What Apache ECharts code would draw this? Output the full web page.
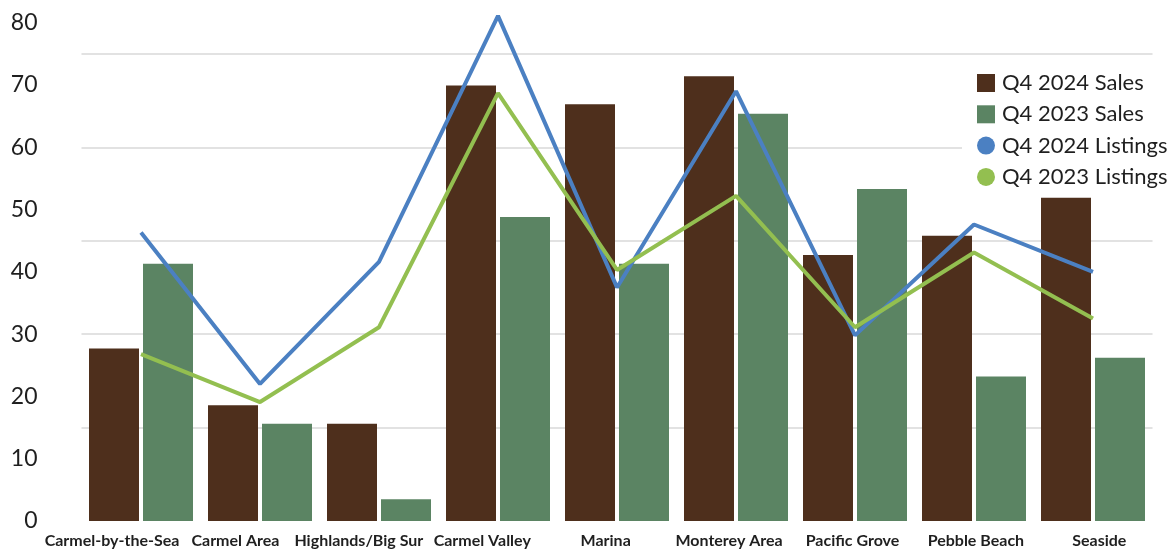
<!DOCTYPE html>
<html>
<head>
<meta charset="utf-8">
<script src="https://cdn.jsdelivr.net/npm/echarts@6/dist/echarts.min.js"></script>
<style>
  html, body { margin: 0; padding: 0; background: #fff; }
  #chart { width: 1167px; height: 556px; }
</style>
</head>
<body>
<div id="chart"></div>
<script>
// areas along the x axis
const areas = ['Carmel-by-the-Sea', 'Carmel Area', 'Highlands/Big Sur', 'Carmel Valley', 'Marina',
  'Monterey Area', 'Pacific Grove', 'Pebble Beach', 'Seaside']

// values
const sales2024 = [27.7, 18.6, 15.6, 69.9, 66.9, 71.4, 42.7, 45.8, 51.9]
const sales2023 = [41.3, 15.6, 3.5, 48.8, 41.3, 65.4, 53.3, 23.2, 26.2]
const listings2024 = [46.3, 22.0, 41.6, 81.1, 37.5, 69.0, 29.8, 47.6, 40.0]
const listings2023 = [26.8, 19.1, 31.1, 68.7, 40.3, 52.2, 31.1, 43.1, 32.5]

const font = 'Lato, "Noto Sans", sans-serif'
const textColor = '#1f1f1f'

let chart = echarts.init(document.getElementById('chart'))
chart.setOption({
  animation: false,
  backgroundColor: '#fff',
  grid: [
    { left: 81.5, right: 14.5, top: 4, bottom: 35 },
    // the area names sit on a slightly different spacing than the bars
    { left: 50.3, right: 6, top: 4, bottom: 35 }
  ],
  legend: {
    orient: 'vertical',
    left: 962,
    top: 63,
    padding: [9, 20, 9, 15],
    backgroundColor: '#fff',
    itemWidth: 18,
    itemHeight: 18,
    itemGap: 9.3,
    textStyle: { fontFamily: font, fontSize: 22, color: textColor, padding: [0, 0, 0, 2] },
    data: [
      { name: 'Q4 2024 Sales', icon: 'rect' },
      { name: 'Q4 2023 Sales', icon: 'rect' },
      { name: 'Q4 2024 Listings', icon: 'circle' },
      { name: 'Q4 2023 Listings', icon: 'circle' }
    ]
  },
  xAxis: [
    {
      type: 'category',
      data: areas,
      axisLine: { show: false },
      axisTick: { show: false },
      axisLabel: { show: false }
    },
    {
      type: 'category',
      gridIndex: 1,
      data: areas,
      axisLine: { show: false },
      axisTick: { show: false },
      axisLabel: { fontFamily: font, fontSize: 16, fontWeight: 'bold', color: textColor, margin: 12, interval: 0 }
    }
  ],
  yAxis: [
    {
      // labels every 10
      type: 'value', min: 0, max: 83, interval: 10,
      axisLine: { show: false }, axisTick: { show: false },
      splitLine: { show: false },
      axisLabel: { fontFamily: font, fontSize: 23, color: textColor, margin: 44, align: 'right', showMaxLabel: false }
    },
    {
      // grid lines every 15
      type: 'value', min: 0, max: 83, interval: 15, position: 'left',
      axisLine: { show: false }, axisTick: { show: false },
      axisLabel: { show: false },
      splitLine: { show: true, showMinLine: false, showMaxLine: false, lineStyle: { color: '#e2e2e2', width: 2 } }
    },
    {
      type: 'value', gridIndex: 1, min: 0, max: 83, show: false
    }
  ],
  series: [
    {
      name: 'Q4 2024 Sales', type: 'bar', data: sales2024,
      barWidth: 50, barGap: '8%',
      itemStyle: { color: '#4e2f1c' }
    },
    {
      name: 'Q4 2023 Sales', type: 'bar', data: sales2023,
      barWidth: 50,
      itemStyle: { color: '#5b8463' }
    },
    {
      name: 'Q4 2024 Listings', type: 'line', data: listings2024,
      showSymbol: false, symbol: 'circle', z: 5,
      lineStyle: { color: '#4b80c2', width: 4 },
      itemStyle: { color: '#4b80c2' }
    },
    {
      name: 'Q4 2023 Listings', type: 'line', data: listings2023,
      showSymbol: false, symbol: 'circle', z: 5,
      lineStyle: { color: '#93bf50', width: 4 },
      itemStyle: { color: '#93bf50' }
    }
  ]
})
</script>
</body>
</html>
